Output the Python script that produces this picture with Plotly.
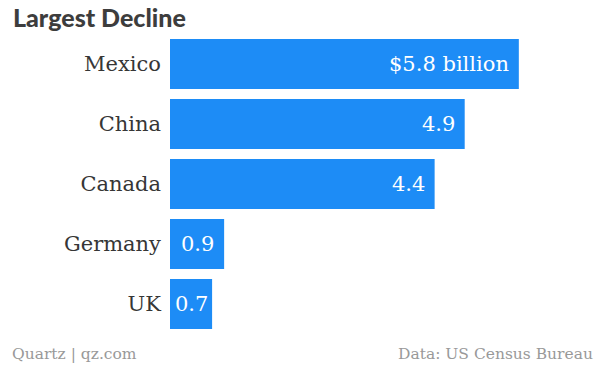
import plotly.graph_objects as go

countries = ["Mexico", "China", "Canada", "Germany", "UK"]
values = [5.8, 4.9, 4.4, 0.9, 0.7]
labels = ["$5.8 billion", "4.9", "4.4", "0.9", "0.7"]

W, H = 600, 370
l, r, t, b = 170, 9, 34, 36
pw, ph = W - l - r, H - t - b
def px(x): return (x - l) / pw
def py(y): return (H - b - y) / ph

fig = go.Figure(go.Bar(
    x=values, y=countries, orientation="h",
    marker=dict(color="#1d8cf6", line=dict(width=0)),
    width=0.833, hoverinfo="skip",
))

anns = [
    dict(text="Largest Decline", x=px(11), y=py(17), xref="paper", yref="paper",
         xanchor="left", yanchor="middle", showarrow=False,
         font=dict(family="Lato", size=25, weight=900, color="#3d3d3d")),
    dict(text="Quartz | qz.com", x=px(10), y=py(354), xref="paper", yref="paper",
         xanchor="left", yanchor="middle", showarrow=False,
         font=dict(family="DejaVu Serif", size=15.5, color="#999999")),
    dict(text="Data: US Census Bureau", x=px(595), y=py(354), xref="paper", yref="paper",
         xanchor="right", yanchor="middle", showarrow=False,
         font=dict(family="DejaVu Serif", size=15.5, color="#999999")),
]
for v, c, lab in zip(values, countries, labels):
    if v >= 0.8:
        a = dict(x=v, xanchor="right", xshift=-8)
    else:
        a = dict(x=v / 2, xanchor="center")
    a.update(text=lab, y=c, xref="x", yref="y", yanchor="middle", showarrow=False,
             font=dict(family="DejaVu Serif", size=21, color="white"))
    anns.append(a)

fig.update_layout(
    width=W, height=H,
    margin=dict(l=l, r=r, t=t, b=b),
    paper_bgcolor="white", plot_bgcolor="white",
    showlegend=False,
    xaxis=dict(range=[0, 7], visible=False, fixedrange=True),
    yaxis=dict(autorange="reversed", showgrid=False, zeroline=False, showline=False,
               ticks="", ticklabelstandoff=8, fixedrange=True,
               tickfont=dict(family="DejaVu Serif", size=21, color="#363636")),
    annotations=anns,
)

fig.write_html("out.html", config={"displayModeBar": False},
               post_script="document.body.style.margin='0';")
